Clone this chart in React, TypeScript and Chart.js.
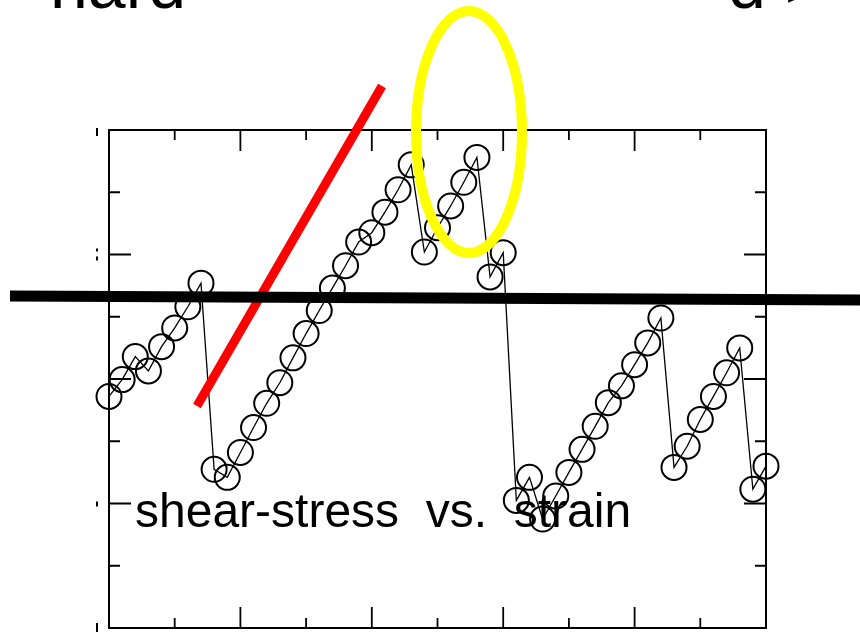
import React, { useEffect, useRef } from "react";
import { Chart, registerables } from "chart.js";

Chart.register(...registerables);

// Strain samples (x) and measured shear stress (y)
const strain = [
  0, 0.2, 0.4, 0.6, 0.8, 1.0, 1.2, 1.4, 1.6, 1.8,
  2.0, 2.2, 2.4, 2.6, 2.8, 3.0, 3.2, 3.4, 3.6, 3.8,
  4.0, 4.2, 4.4, 4.6, 4.8, 5.0, 5.2, 5.4, 5.6, 5.8,
  6.0, 6.2, 6.4, 6.6, 6.8, 7.0, 7.2, 7.4, 7.6, 7.8,
  8.0, 8.2, 8.4, 8.6, 8.8, 9.0, 9.2, 9.4, 9.6, 9.8,
  10.0,
];

const shearStress = [
  3.72, 3.99, 4.36, 4.13, 4.52, 4.82, 5.16, 5.54,
  2.55, 2.42, 2.82, 3.22, 3.61, 3.94, 4.34, 4.73, 5.10, 5.46, 5.82, 6.20, 6.35, 6.68, 7.04, 7.44,
  6.04, 6.43, 6.78, 7.16, 7.56,
  5.64, 6.03,
  2.05, 2.42, 1.75, 2.12, 2.50, 2.87, 3.24, 3.62, 3.89, 4.23, 4.58, 4.98,
  2.58, 2.92, 3.35, 3.72, 4.10, 4.50,
  2.23, 2.60,
];

// Inner tick marks of the frame
const xTickValues = [1, 2, 3, 4, 5, 6, 7, 8, 9];
const yTickValues = [1, 2, 3, 4, 5, 6, 7];

const caption = "shear-stress  vs.  strain";
const headingLeft = "hard";
const headingRight = "d >";

const FONT = '"Liberation Sans", Arial, Helvetica, sans-serif';

// Box frame with inward ticks (long on even values, short on odd)
const framePlugin = {
  id: "frame",
  afterDatasetsDraw(chart: any) {
    const { ctx, chartArea, scales } = chart;
    const { left, right, top, bottom } = chartArea;
    ctx.save();
    ctx.strokeStyle = "#000";
    ctx.lineWidth = 2;
    ctx.strokeRect(left, top, right - left, bottom - top);
    ctx.lineWidth = 1.8;
    ctx.beginPath();
    for (const v of xTickValues) {
      const px = scales.x.getPixelForValue(v);
      const len = v % 2 === 0 ? 21 : 10;
      ctx.moveTo(px, top);
      ctx.lineTo(px, top + len);
      ctx.moveTo(px, bottom);
      ctx.lineTo(px, bottom - len);
    }
    for (const v of yTickValues) {
      const py = scales.y.getPixelForValue(v);
      const len = v % 2 === 0 ? 22 : 11;
      ctx.moveTo(left, py);
      ctx.lineTo(left + len, py);
      ctx.moveTo(right, py);
      ctx.lineTo(right - len, py);
    }
    ctx.stroke();

    // cropped remains of the left tick labels
    ctx.fillStyle = "#000";
    ctx.fillRect(left - 13, top - 2, 2, 8);
    ctx.fillRect(left - 13, scales.y.getPixelForValue(6) - 6, 2, 3);
    ctx.fillRect(left - 13, scales.y.getPixelForValue(6) + 2, 2, 4);
    ctx.fillRect(left - 13, scales.y.getPixelForValue(2) - 2, 2, 5);
    ctx.fillRect(left - 13, bottom - 5, 2, 9);
    ctx.restore();
  },
};

// Slide annotations drawn over the plot
const annotationPlugin = {
  id: "slideMarks",
  afterDraw(chart: any) {
    const { ctx } = chart;
    ctx.save();

    // caption
    ctx.fillStyle = "#000";
    ctx.font = `48px ${FONT}`;
    ctx.textBaseline = "alphabetic";
    ctx.textAlign = "left";
    ctx.fillText(caption, 135, 527);

    // headline running off the top edge
    ctx.font = `68px ${FONT}`;
    ctx.fillText(headingLeft, 50, 8);
    ctx.fillText(headingRight, 728, 8);

    // red slope line
    ctx.strokeStyle = "#ff0000";
    ctx.lineWidth = 9;
    ctx.lineCap = "butt";
    ctx.beginPath();
    ctx.moveTo(197, 406);
    ctx.lineTo(382, 86);
    ctx.stroke();

    // black horizontal bar
    ctx.strokeStyle = "#000";
    ctx.lineWidth = 11;
    ctx.beginPath();
    ctx.moveTo(10, 296);
    ctx.lineTo(860, 300);
    ctx.stroke();

    // yellow ellipse
    ctx.strokeStyle = "#ffff00";
    ctx.lineWidth = 10;
    ctx.beginPath();
    ctx.ellipse(469, 132, 53, 121, 0, 0, Math.PI * 2);
    ctx.stroke();

    ctx.restore();
  },
};

export default function App() {
  const canvasRef = useRef<HTMLCanvasElement>(null);

  useEffect(() => {
    const canvas = canvasRef.current;
    if (!canvas) return;
    const chart = new Chart(canvas, {
      type: "line",
      data: {
        datasets: [
          {
            data: strain.map((x, i) => ({ x, y: shearStress[i] })),
            borderColor: "#000",
            borderWidth: 1.3,
            pointRadius: 12.5,
            pointBorderWidth: 2,
            pointBorderColor: "#000",
            pointBackgroundColor: "rgba(0,0,0,0)",
            pointStyle: "circle",
            fill: false,
            tension: 0,
            clip: false,
          } as any,
        ],
      },
      options: {
        responsive: false,
        animation: false,
        devicePixelRatio: 1,
        layout: {
          autoPadding: false,
          padding: { left: 109, right: 94, top: 130, bottom: 4 },
        },
        scales: {
          x: { type: "linear", min: 0, max: 10, display: false },
          y: { type: "linear", min: 0, max: 8, display: false },
        },
        plugins: {
          legend: { display: false },
          tooltip: { enabled: false },
        },
      },
      plugins: [framePlugin, annotationPlugin],
    });
    return () => chart.destroy();
  }, []);

  return (
    <div
      style={{
        position: "fixed",
        left: 0,
        top: 0,
        width: 860,
        height: 632,
        background: "#fff",
      }}
    >
      <canvas
        ref={canvasRef}
        width={860}
        height={632}
        style={{ display: "block", width: 860, height: 632 }}
      />
    </div>
  );
}
